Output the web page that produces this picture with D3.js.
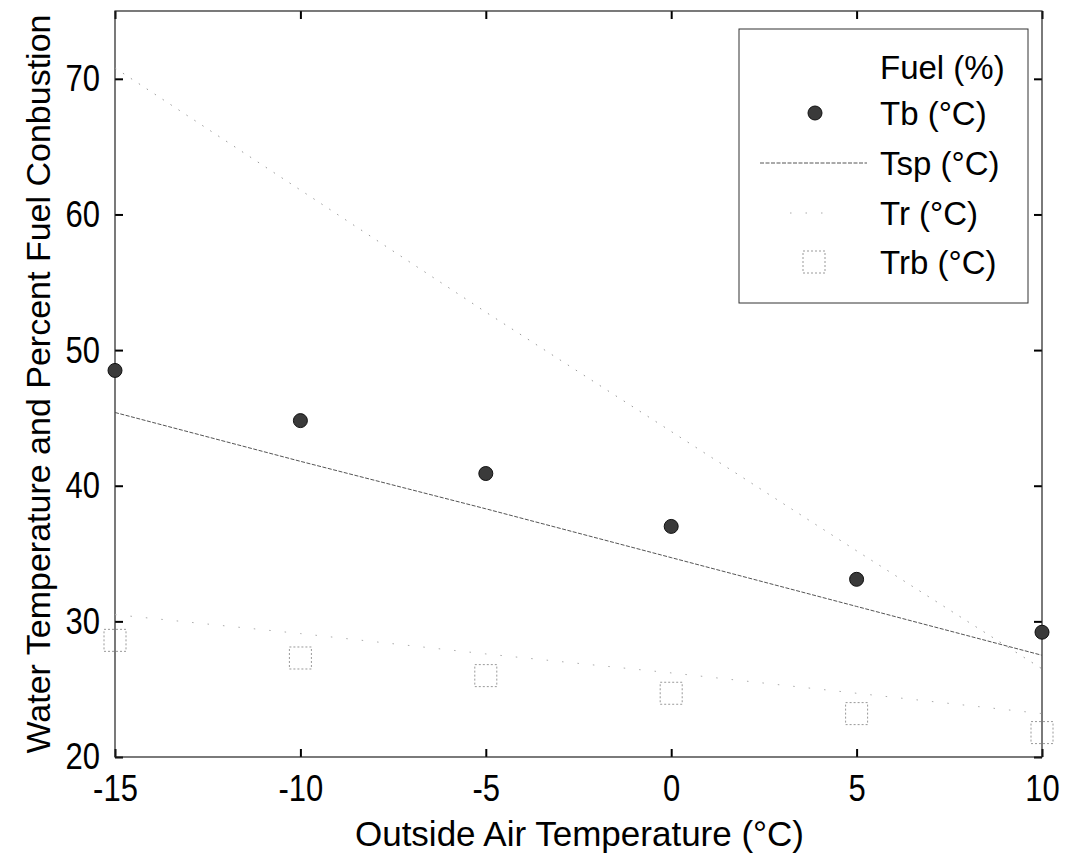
<!DOCTYPE html>
<html>
<head>
<meta charset="utf-8">
<script src="https://cdn.jsdelivr.net/npm/d3@7"></script>
<style>
  body { margin: 0; background: #fff; }
  svg { display: block; font-family: "Liberation Sans", Arial, sans-serif; }
  .axis path { display: none; }
  .axis line { stroke: #000; stroke-width: 2; }
  .axis text { font-size: 31px; fill: #000; }
</style>
</head>
<body>
<div id="chart"></div>
<script>
// values
const outsideTemp = [-15, -10, -5, 0, 5, 10];
const fuelPct = [70.8, 61.8, 52.8, 44.0, 35.2, 26.5];
const tbVals = [48.5, 44.8, 40.9, 37.0, 33.1, 29.2];
const tspVals = [45.4, 41.8, 38.3, 34.7, 31.1, 27.5];
const trVals = [30.5, 29.1, 27.6, 26.2, 24.7, 23.2];
const trbVals = [28.6, 27.3, 26.0, 24.7, 23.2, 21.8];

const xTicks = [-15, -10, -5, 0, 5, 10];
const yTicks = [20, 30, 40, 50, 60, 70];
const legendLabels = ["Fuel (%)", "Tb (\u00B0C)", "Tsp (\u00B0C)", "Tr (\u00B0C)", "Trb (\u00B0C)"];

const width = 1066, height = 855;
const margin = { top: 11, right: 24, bottom: 98, left: 115 };
const innerW = width - margin.left - margin.right;
const innerH = height - margin.top - margin.bottom;

// plain hyphen for negatives, like the original
const plainFormat = function (d) { return String(d); };

const svg = d3.select("#chart").append("svg")
  .attr("width", width)
  .attr("height", height);

const g = svg.append("g")
  .attr("transform", "translate(" + margin.left + "," + margin.top + ")");

const x = d3.scaleLinear().domain([-15, 10]).range([0, innerW]);
const y = d3.scaleLinear().domain([20, 75]).range([innerH, 0]);

// axes, ticks pointing inward on all four sides
g.append("g").attr("class", "axis")
  .attr("transform", "translate(0," + innerH + ")")
  .call(d3.axisBottom(x).tickValues(xTicks).tickFormat(plainFormat)
    .tickSizeInner(-8).tickSizeOuter(0).tickPadding(14))
  .selectAll("text")
  .attr("dy", "0.72em")
  .attr("transform", "scale(1,1.2)");

g.append("g").attr("class", "axis")
  .call(d3.axisTop(x).tickValues(xTicks).tickSizeInner(-8).tickSizeOuter(0).tickFormat(""));

g.append("g").attr("class", "axis")
  .call(d3.axisLeft(y).tickValues(yTicks).tickFormat(plainFormat)
    .tickSizeInner(-8).tickSizeOuter(0).tickPadding(15))
  .selectAll("text")
  .attr("transform", "scale(1,1.2)");

g.append("g").attr("class", "axis")
  .attr("transform", "translate(" + innerW + ",0)")
  .call(d3.axisRight(y).tickValues(yTicks).tickSizeInner(-8).tickSizeOuter(0).tickFormat(""));

g.append("rect")
  .attr("width", innerW)
  .attr("height", innerH)
  .attr("fill", "none")
  .attr("stroke", "#222")
  .attr("stroke-width", 1.2);

function rows(vals) {
  return outsideTemp.map(function (t, i) { return { t: t, v: vals[i] }; });
}

const line = d3.line()
  .x(function (d) { return x(d.t); })
  .y(function (d) { return y(d.v); });

// fuel, very faint dotted
g.append("path")
  .datum(rows(fuelPct))
  .attr("d", line)
  .attr("fill", "none")
  .attr("stroke", "#9a9a9a")
  .attr("stroke-width", 1)
  .attr("stroke-dasharray", "1.5,8");

// Tr, faint sparse dots
g.append("path")
  .datum(rows(trVals))
  .attr("d", line)
  .attr("fill", "none")
  .attr("stroke", "#aaa")
  .attr("stroke-width", 1)
  .attr("stroke-dasharray", "1.5,14");

// Tsp
g.append("path")
  .datum(rows(tspVals))
  .attr("d", line)
  .attr("fill", "none")
  .attr("stroke", "#555")
  .attr("stroke-width", 1)
  .attr("stroke-dasharray", "4,1.5");

// Trb squares
g.selectAll(".trb")
  .data(rows(trbVals))
  .enter().append("rect")
  .attr("class", "trb")
  .attr("x", function (d) { return x(d.t) - 11; })
  .attr("y", function (d) { return y(d.v) - 11; })
  .attr("width", 22)
  .attr("height", 22)
  .attr("fill", "none")
  .attr("stroke", "#999")
  .attr("stroke-width", 1)
  .attr("stroke-dasharray", "2,2");

// Tb dots
g.selectAll(".tb")
  .data(rows(tbVals))
  .enter().append("circle")
  .attr("class", "tb")
  .attr("cx", function (d) { return x(d.t); })
  .attr("cy", function (d) { return y(d.v); })
  .attr("r", 7)
  .attr("fill", "#3a3a3a")
  .attr("stroke", "#111")
  .attr("stroke-width", 1);

// axis titles
svg.append("text")
  .attr("x", margin.left + innerW / 2 + 1)
  .attr("y", 846)
  .attr("text-anchor", "middle")
  .attr("font-size", "35px")
  .text("Outside Air Temperature (\u00B0C)");

svg.append("text")
  .attr("transform", "translate(50," + (margin.top + innerH / 2) + ") rotate(-90)")
  .attr("text-anchor", "middle")
  .attr("font-size", "34px")
  .text("Water Temperature and Percent Fuel Conbustion");

// legend
const legend = svg.append("g").attr("transform", "translate(739,29)");
legend.append("rect")
  .attr("width", 289)
  .attr("height", 274)
  .attr("fill", "#fff")
  .attr("stroke", "#333")
  .attr("stroke-width", 1);

const rowY = [38, 84, 134, 184, 233];
legend.selectAll(".lbl")
  .data(legendLabels)
  .enter().append("text")
  .attr("class", "lbl")
  .attr("x", 141)
  .attr("y", function (d, i) { return rowY[i]; })
  .attr("dy", "0.36em")
  .attr("font-size", "33px")
  .text(function (d) { return d; });

legend.append("circle")
  .attr("cx", 76).attr("cy", rowY[1]).attr("r", 7)
  .attr("fill", "#3a3a3a").attr("stroke", "#111");
legend.append("line")
  .attr("x1", 21).attr("x2", 128).attr("y1", rowY[2]).attr("y2", rowY[2])
  .attr("stroke", "#555").attr("stroke-dasharray", "4,1.5");
legend.append("line")
  .attr("x1", 51).attr("x2", 90).attr("y1", rowY[3]).attr("y2", rowY[3])
  .attr("stroke", "#aaa").attr("stroke-dasharray", "1.5,14");
legend.append("rect")
  .attr("x", 64).attr("y", rowY[4] - 11).attr("width", 22).attr("height", 22)
  .attr("fill", "none").attr("stroke", "#999").attr("stroke-dasharray", "2,2");
</script>
</body>
</html>
